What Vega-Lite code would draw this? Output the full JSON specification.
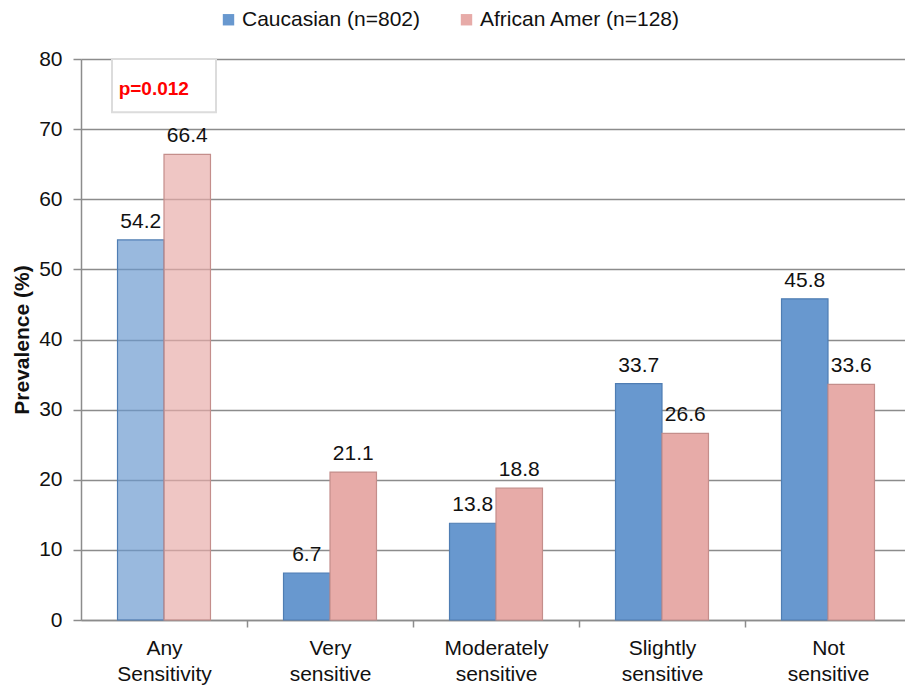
{
  "$schema": "https://vega.github.io/schema/vega-lite/v6.json",
  "autosize": "none",
  "width": 830,
  "height": 561,
  "padding": {"left": 81, "top": 59, "right": 0, "bottom": 70},
  "background": "white",
  "config": {
    "font": "Liberation Sans",
    "view": {"stroke": null},
    "axis": {
      "labelFont": "Liberation Sans",
      "labelFontSize": 21,
      "labelColor": "#111111",
      "domainColor": "#8c8c8c",
      "domainWidth": 1.5,
      "tickColor": "#8c8c8c",
      "tickWidth": 1.5,
      "tickSize": 7,
      "gridColor": "#8c8c8c",
      "gridWidth": 1.5
    }
  },
  "layer": [
    {
      "data": {
        "values": [
          {"cat": "Any Sensitivity", "race": "Caucasian (n=802)", "value": 54.2},
          {"cat": "Any Sensitivity", "race": "African Amer (n=128)", "value": 66.4},
          {"cat": "Very sensitive", "race": "Caucasian (n=802)", "value": 6.7},
          {"cat": "Very sensitive", "race": "African Amer (n=128)", "value": 21.1},
          {"cat": "Moderately sensitive", "race": "Caucasian (n=802)", "value": 13.8},
          {"cat": "Moderately sensitive", "race": "African Amer (n=128)", "value": 18.8},
          {"cat": "Slightly sensitive", "race": "Caucasian (n=802)", "value": 33.7},
          {"cat": "Slightly sensitive", "race": "African Amer (n=128)", "value": 26.6},
          {"cat": "Not sensitive", "race": "Caucasian (n=802)", "value": 45.8},
          {"cat": "Not sensitive", "race": "African Amer (n=128)", "value": 33.6}
        ]
      },
      "encoding": {
        "x": {
          "field": "cat",
          "type": "nominal",
          "sort": null,
          "scale": {
            "domain": ["Any Sensitivity", "Very sensitive", "Moderately sensitive", "Slightly sensitive", "Not sensitive"],
            "paddingInner": 0.44,
            "paddingOuter": 0.22
          },
          "axis": {
            "title": null,
            "labelAngle": 0,
            "tickOffset": 83,
            "labelOffset": -83,
            "labelPadding": 10,
            "labelLineHeight": 26,
            "labelBaseline": "top",
            "labelExpr": "split(datum.label, ' ')"
          }
        },
        "xOffset": {
          "field": "race",
          "type": "nominal",
          "scale": {"domain": ["Caucasian (n=802)", "African Amer (n=128)"]}
        },
        "y": {
          "field": "value",
          "type": "quantitative",
          "scale": {"domain": [0, 80], "nice": false},
          "axis": {
            "title": "Prevalence (%)",
            "titleFontSize": 21,
            "titleFontWeight": "bold",
            "titleColor": "#111111",
            "titlePadding": 6,
            "values": [0, 10, 20, 30, 40, 50, 60, 70, 80],
            "tickSize": 8,
            "labelPadding": 11
          }
        }
      },
      "layer": [
        {
          "mark": {"type": "bar", "strokeWidth": 1.2},
          "encoding": {
            "fill": {
              "field": "race",
              "type": "nominal",
              "scale": {
                "domain": ["Caucasian (n=802)", "African Amer (n=128)"],
                "range": ["#6898cf", "#e7aba8"]
              },
              "legend": {
                "title": null,
                "orient": "none",
                "direction": "horizontal",
                "legendX": 137,
                "legendY": -50,
                "padding": 0,
                "symbolType": "square",
                "symbolSize": 130,
                "symbolStrokeWidth": 0,
                "labelFontSize": 21,
                "labelColor": "#111111",
                "labelFont": "Liberation Sans",
                "labelLimit": 400,
                "columnPadding": 35,
                "labelOffset": 3
              }
            },
            "stroke": {
              "field": "race",
              "type": "nominal",
              "scale": {
                "domain": ["Caucasian (n=802)", "African Amer (n=128)"],
                "range": ["#4f7db3", "#c48e8b"]
              },
              "legend": null
            },
            "fillOpacity": {
              "condition": {"test": "datum.cat === 'Any Sensitivity'", "value": 0.68},
              "value": 1
            }
          }
        },
        {
          "mark": {"type": "text", "baseline": "alphabetic", "dy": -12, "fontSize": 21, "color": "#111111"},
          "encoding": {
            "text": {"field": "value", "type": "quantitative", "format": ".1f"}
          }
        }
      ]
    },
    {
      "data": {
        "values": [
          {"cat": "Any Sensitivity", "top": 80, "bottom": 72.4, "mid": 75.7, "label": "p=0.012"}
        ]
      },
      "layer": [
        {
          "mark": {"type": "bar", "width": 104, "fill": "white", "stroke": "#dcdcdc", "strokeWidth": 2},
          "encoding": {
            "x": {"field": "cat", "type": "nominal", "bandPosition": 0.39},
            "y": {"field": "top", "type": "quantitative"},
            "y2": {"field": "bottom"}
          }
        },
        {
          "mark": {"type": "text", "baseline": "middle", "fontSize": 19, "fontWeight": "bold", "color": "#ff0000"},
          "encoding": {
            "x": {"field": "cat", "type": "nominal", "bandPosition": 0.39},
            "y": {"field": "mid", "type": "quantitative"},
            "text": {"field": "label"}
          }
        }
      ]
    }
  ]
}
